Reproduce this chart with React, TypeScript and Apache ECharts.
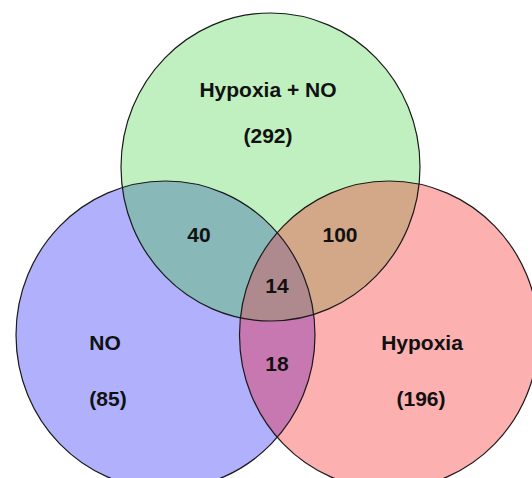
import React, { useEffect, useRef } from "react";
import * as echarts from "echarts";

// ---- data ----
const setNames = ["Hypoxia + NO", "NO", "Hypoxia"];
const setOnly = [292, 85, 196];
const pairKeys = [[0, 1], [0, 2], [1, 2]];
const pairCounts = [40, 100, 18];
const tripleCount = 14;

// ---- layout (geometry of the three sets) ----
const RX = 149.5;
const RY = 154;
const centers = [
  [270.5, 167],
  [165.5, 335],
  [389, 335],
];
const baseColors = ["#C0F0C0", "#B0B0FC", "#FCB0B0"];
const pairColors = ["#88B8B8", "#D2A888", "#C878B0"];
const tripleColor = "#AE8A8E";

const namePos = [
  [268, 89],
  [105, 342],
  [422, 342],
];
const onlyPos = [
  [268, 135],
  [108, 398],
  [421, 398],
];
const pairPos = [
  [199, 234],
  [340, 234],
  [277, 363],
];
const triplePos = [277, 285];

function inside(j: number, x: number, y: number) {
  const dx = (x - centers[j][0]) / RX;
  const dy = (y - centers[j][1]) / RY;
  return dx * dx + dy * dy <= 1 + 1e-9;
}

function region(idx: number[]): number[][] {
  const pts: number[][] = [];
  const N = 1440;
  for (const i of idx) {
    for (let k = 0; k < N; k++) {
      const t = (k / N) * Math.PI * 2;
      const x = centers[i][0] + RX * Math.cos(t);
      const y = centers[i][1] + RY * Math.sin(t);
      let ok = true;
      for (const j of idx) if (j !== i && !inside(j, x, y)) ok = false;
      if (ok) pts.push([x, y]);
    }
  }
  let cx = 0, cy = 0;
  pts.forEach((p) => { cx += p[0]; cy += p[1]; });
  cx /= pts.length; cy /= pts.length;
  pts.sort((a, b) => Math.atan2(a[1] - cy, a[0] - cx) - Math.atan2(b[1] - cy, b[0] - cx));
  return pts;
}

const FONT = "bold 21px 'Liberation Sans', Arial, sans-serif";

function txt(text: string, x: number, y: number, z: number) {
  return {
    type: "text",
    x,
    y,
    z,
    style: {
      text,
      font: FONT,
      fill: "#111",
      textAlign: "center",
      align: "center",
      textVerticalAlign: "middle",
      verticalAlign: "middle",
    },
  };
}

export default function App() {
  const ref = useRef<HTMLDivElement>(null);
  useEffect(() => {
    if (!ref.current) return;
    const chart = echarts.init(ref.current, undefined, { renderer: "svg" });
    const elements: any[] = [];
    centers.forEach((c, i) => {
      elements.push({
        type: "ellipse",
        z: 1,
        shape: { cx: c[0], cy: c[1], rx: RX, ry: RY },
        style: { fill: baseColors[i], stroke: "none" },
      });
    });
    pairKeys.forEach((pk, i) => {
      elements.push({
        type: "polygon",
        z: 2,
        shape: { points: region(pk) },
        style: { fill: pairColors[i], stroke: "none" },
      });
    });
    elements.push({
      type: "polygon",
      z: 3,
      shape: { points: region([0, 1, 2]) },
      style: { fill: tripleColor, stroke: "none" },
    });
    centers.forEach((c) => {
      elements.push({
        type: "ellipse",
        z: 4,
        shape: { cx: c[0], cy: c[1], rx: RX, ry: RY },
        style: { fill: "none", stroke: "#1a1a1a", lineWidth: 1.2 },
      });
    });
    setNames.forEach((n, i) => elements.push(txt(n, namePos[i][0], namePos[i][1], 5)));
    setOnly.forEach((v, i) => elements.push(txt(`(${v})`, onlyPos[i][0], onlyPos[i][1], 5)));
    pairCounts.forEach((v, i) => elements.push(txt(String(v), pairPos[i][0], pairPos[i][1], 5)));
    elements.push(txt(String(tripleCount), triplePos[0], triplePos[1], 5));

    chart.setOption({
      animation: false,
      backgroundColor: "#ffffff",
      graphic: { elements },
    });
    return () => chart.dispose();
  }, []);
  return (
    <div
      ref={ref}
      style={{ position: "fixed", left: 0, top: 0, width: 532, height: 478 }}
    />
  );
}
